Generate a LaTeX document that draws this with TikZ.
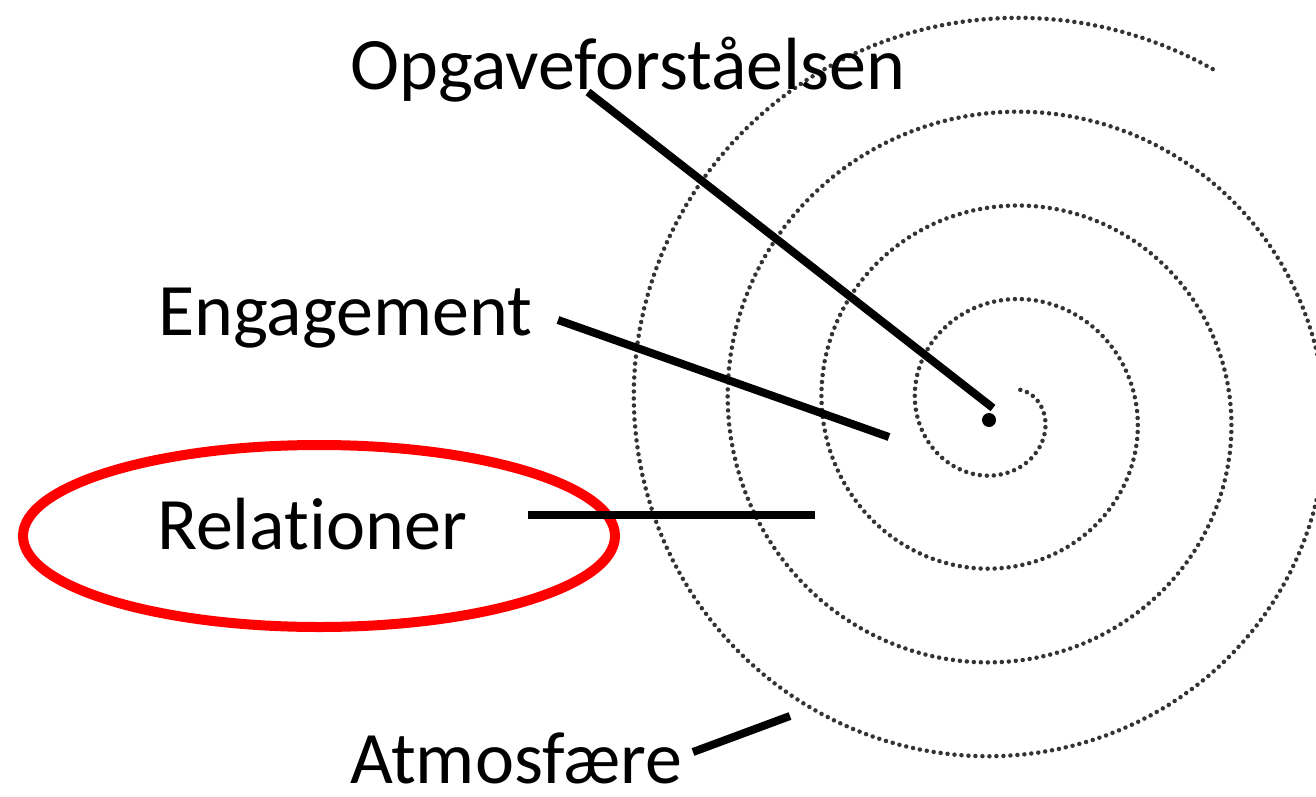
\documentclass[tikz,border=0pt]{standalone}
\usepackage{fontspec}
\setmainfont{Carlito}[Ligatures=NoCommon]
\usepackage{tikz}
\usetikzlibrary{calc,positioning}

\begin{document}
\begin{tikzpicture}[x=1pt,y=-1pt,
  lbl/.style={anchor=base west,inner sep=0pt,font=\fontsize{74}{88}\selectfont},
  pointer/.style={line width=8pt},
  spiraldots/.style={line width=4.5pt,draw=black!80,line cap=round,dash pattern=on 0pt off 7pt}]
  \def\cx{1003}
  \def\cy{410.5}
  \useasboundingbox (0,0) rectangle (1316,797);
  % spiral
  \draw[spiraldots] plot[domain=-50:1382,samples=500,variable=\t]
    ({\cx+(40+0.26111*\t)*cos(\t)},{\cy+(40+0.26111*\t)*sin(\t)});
  \fill (989,420) circle(7);
  \coordinate (mid) at (993,408);
  % labels
  \node[lbl] (opg) at (350,90) {Opgaveforståelsen};
  \node[lbl] (eng) at (158,335) {Engagement};
  \node[lbl] (rel) at (157,549) {Relationer};
  \node[lbl] (atm) at (350,783) {Atmosfære};
  \draw[red,line width=10pt] (319,536) ellipse (296 and 91);
  % pointers
  \coordinate (opg-s) at (588,92);
  \coordinate (eng-s) at (558,320);
  \coordinate (eng-e) at (889,437);
  \coordinate (rel-s) at (528,515);
  \coordinate (rel-e) at (815,515);
  \coordinate (atm-s) at (693,752);
  \coordinate (atm-e) at (790,716);
  \draw[pointer] (opg-s)--(mid);
  \draw[pointer] (eng-s)--(eng-e);
  \draw[pointer] (rel-s)--(rel-e);
  \draw[pointer] (atm-s)--(atm-e);
\end{tikzpicture}
\end{document}
